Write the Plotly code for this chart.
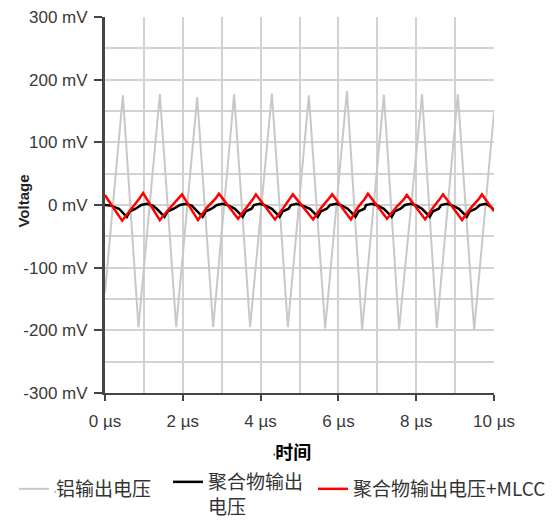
import plotly.graph_objects as go

# ---------------- data ----------------
al_t = [0.0, 0.46, 0.86, 1.41, 1.83, 2.37, 2.78, 3.32, 3.73, 4.29, 4.70,
        5.24, 5.66, 6.22, 6.61, 7.17, 7.56, 8.15, 8.53, 9.07, 9.49, 10.0]
al_v = [-140, 175, -195, 177, -195, 172, -195, 177, -195, 178, -195,
        175, -197, 182, -199, 176, -198, 177, -196, 177, -199, 148]

poly_t = [0.0, 0.15,
          0.36, 0.52, 0.56, 0.64, 0.79, 0.93, 1.08, 1.23,
          1.33, 1.49, 1.53, 1.61, 1.76, 1.93, 2.08, 2.23,
          2.31, 2.47, 2.51, 2.59, 2.74, 2.88, 3.03, 3.18,
          3.34, 3.50, 3.54, 3.62, 3.77, 3.83, 3.98, 4.13,
          4.29, 4.45, 4.49, 4.57, 4.72, 4.78, 4.93, 5.08,
          5.27, 5.43, 5.47, 5.55, 5.70, 5.79, 5.94, 6.09,
          6.24, 6.40, 6.44, 6.52, 6.67, 6.71, 6.86, 7.01,
          7.17, 7.33, 7.37, 7.45, 7.60, 7.71, 7.86, 8.01,
          8.15, 8.31, 8.35, 8.43, 8.58, 8.64, 8.79, 8.94,
          9.10, 9.26, 9.30, 9.38, 9.53, 9.64, 9.79, 9.94, 10.0]
poly_v = [0, -1,
          -6, -16, -19, -10, -6, 0, 2, -1,
          -6, -16, -19, -10, -6, 0, 2, -1,
          -6, -16, -19, -10, -6, 0, 2, -1,
          -6, -16, -19, -10, -6, 0, 2, -1,
          -6, -16, -19, -10, -6, 0, 2, -1,
          -6, -16, -19, -10, -6, 0, 2, -1,
          -6, -16, -19, -10, -6, 0, 2, -1,
          -6, -16, -19, -10, -6, 0, 2, -1,
          -6, -16, -19, -10, -6, 0, 2, -1,
          -6, -16, -19, -10, -6, 0, 2, -4, -8]

mlcc_t = [0.0, 0.06, 0.44, 0.70, 0.88, 0.98, 1.41, 1.65, 1.88, 1.98,
          2.39, 2.62, 2.84, 2.93, 3.42, 3.62, 3.80, 3.88, 4.37, 4.58,
          4.75, 4.83, 5.35, 5.55, 5.75, 5.84, 6.32, 6.50, 6.68, 6.76,
          7.25, 7.48, 7.68, 7.76, 8.23, 8.42, 8.60, 8.69, 9.18, 9.40,
          9.60, 9.69, 10.0]
mlcc_v = [16, 10, -25, -5, 10, 19, -24, -6, 9, 17,
          -24, -4, 10, 18, -22, -6, 9, 17, -23, -5,
          9, 17, -23, -5, 10, 17, -23, -4, 10, 18,
          -22, -4, 9, 16, -23, -5, 9, 17, -24, -5,
          9, 17, -10]

y_ticks = [-300, -200, -100, 0, 100, 200, 300]
y_labels = ["-300 mV", "-200 mV", "-100 mV", "0 mV", "100 mV", "200 mV", "300 mV"]
y_minor = [-250, -150, -50, 50, 150, 250]
x_ticks = [0, 2, 4, 6, 8, 10]
x_labels = ["0 µs", "2 µs", "4 µs", "6 µs", "8 µs", "10 µs"]
x_minor = [1, 3, 5, 7, 9]

mark = '<span style="font-size:7px;">\'</span>'
names = [mark + "铝输出电压", "聚合物输出<br>电压", "聚合物输出电压+MLCC"]

# ---------------- figure ----------------
GRID = "#d2d2d2"
AXIS = "#454545"
TICKFONT = dict(family="Liberation Sans Narrow, Liberation Sans, Arial", size=17, color="#3a3a3a")
CJK = "Noto Sans CJK SC, Noto Sans, sans-serif"
W, H = 555, 520

fig = go.Figure()
fig.add_trace(go.Scatter(x=al_t, y=al_v, mode="lines", name=names[0], legend="legend",
                         line=dict(color="#c8c8c8", width=2)))
fig.add_trace(go.Scatter(x=poly_t, y=poly_v, mode="lines", name=names[1], legend="legend2",
                         line=dict(color="#000000", width=2.5)))
fig.add_trace(go.Scatter(x=mlcc_t, y=mlcc_v, mode="lines", name=names[2], legend="legend3",
                         line=dict(color="#ff0000", width=2.5)))

fig.update_xaxes(range=[0, 10], tickvals=x_ticks, ticktext=x_labels,
                 showgrid=True, gridcolor=GRID, gridwidth=2,
                 minor=dict(tickvals=x_minor, showgrid=True, gridcolor=GRID, gridwidth=2, ticks=""),
                 showline=True, linecolor=AXIS, linewidth=2,
                 ticks="outside", ticklen=6, tickwidth=2, tickcolor=AXIS,
                 ticklabelstandoff=6,
                 zeroline=False, tickfont=TICKFONT, automargin=False)
fig.update_yaxes(range=[-300, 300], tickvals=y_ticks, ticktext=y_labels,
                 showgrid=True, gridcolor=GRID, gridwidth=2,
                 minor=dict(tickvals=y_minor, showgrid=True, gridcolor=GRID, gridwidth=2, ticks=""),
                 showline=True, linecolor=AXIS, linewidth=3,
                 ticks="outside", ticklen=8, tickwidth=2, tickcolor=AXIS,
                 ticklabelstandoff=3,
                 zeroline=False, tickfont=TICKFONT, automargin=False)


def leg(x_px, top_px):
    return dict(orientation="h", xref="container", yref="container",
                x=x_px / W, xanchor="left", y=(H - top_px) / H, yanchor="top",
                valign="top", font=dict(family=CJK, size=19, color="#333333"),
                itemwidth=30, bgcolor="rgba(0,0,0,0)", borderwidth=0)


fig.update_layout(
    width=W, height=H,
    margin=dict(l=105, r=61, t=17, b=127, autoexpand=False),
    plot_bgcolor="white", paper_bgcolor="white",
    showlegend=True,
    legend=leg(14, 470),
    legend2=leg(168, 463),
    legend3=leg(313, 470),
    annotations=[
        dict(text="Voltage", x=-0.21, y=0.51, xref="paper", yref="paper",
             xanchor="center", yanchor="middle",
             textangle=-90, showarrow=False,
             font=dict(family="Liberation Sans, Arial", size=15, color="#222222", weight="bold")),
        dict(text=mark + "时间", x=0.481, y=-0.154, xref="paper", yref="paper",
             xanchor="center", yanchor="middle",
             showarrow=False,
             font=dict(family=CJK, size=18, color="#000000", weight="bold")),
    ],
)

fig.write_html("out.html")
